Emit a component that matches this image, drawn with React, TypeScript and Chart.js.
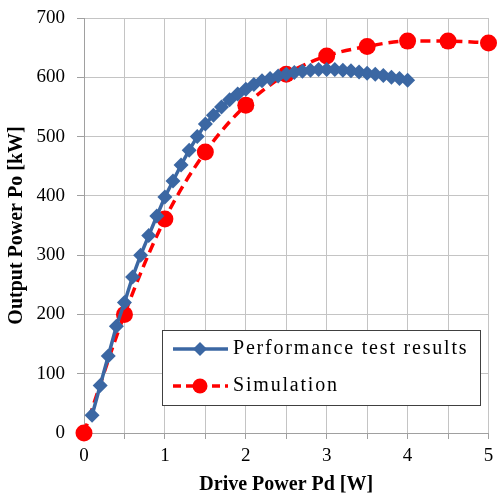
import React, { useEffect, useRef } from "react";
import { Chart, registerables } from "chart.js";

Chart.register(...registerables);

const testX = [0.1, 0.2, 0.3, 0.4, 0.5, 0.6, 0.7, 0.8, 0.9, 1.0, 1.1, 1.2, 1.3, 1.4, 1.5, 1.6, 1.7, 1.8, 1.9, 2.0, 2.1, 2.2, 2.3, 2.4, 2.5, 2.6, 2.7, 2.8, 2.9, 3.0, 3.1, 3.2, 3.3, 3.4, 3.5, 3.6, 3.7, 3.8, 3.9, 4.0];
const testY = [30, 80, 130, 180, 220, 263, 300, 333, 366, 398, 425, 452, 477, 500, 521, 536, 550, 562, 572, 580, 588, 594, 598, 602, 605, 608, 610, 612, 613, 613, 613, 612, 611, 609, 607, 605, 603, 600, 598, 595];
const simX = [0, 0.5, 1.0, 1.5, 2.0, 2.5, 3.0, 3.5, 4.0, 4.5, 5.0];
const simY = [0, 200, 361, 474, 553, 605, 636, 652, 661, 661, 658];
const seriesNames = ["Performance test results", "Simulation"];
const xTitle = "Drive Power Pd [W]";
const yTitle = "Output Power Po [kW]";

const BLUE = "#3b67a3";
const RED = "#ff0000";
const FONT = "'Liberation Serif', 'Times New Roman', serif";

const legendPlugin = {
  id: "insideLegend",
  afterDatasetsDraw(chart: any) {
    const ctx = chart.ctx;
    const x0 = 162, y0 = 330, w = 318, h = 75;
    ctx.save();
    ctx.fillStyle = "#ffffff";
    ctx.fillRect(x0, y0, w, h);
    ctx.strokeStyle = "#404040";
    ctx.lineWidth = 1;
    ctx.setLineDash([]);
    ctx.strokeRect(x0 + 0.5, y0 + 0.5, w, h);
    const r1 = 349, r2 = 386;
    ctx.strokeStyle = BLUE;
    ctx.lineWidth = 3.5;
    ctx.beginPath();
    ctx.moveTo(173, r1);
    ctx.lineTo(228, r1);
    ctx.stroke();
    ctx.fillStyle = BLUE;
    ctx.beginPath();
    ctx.moveTo(200, r1 - 7);
    ctx.lineTo(207, r1);
    ctx.lineTo(200, r1 + 7);
    ctx.lineTo(193, r1);
    ctx.closePath();
    ctx.fill();
    ctx.strokeStyle = RED;
    ctx.lineWidth = 3.5;
    ctx.setLineDash([8, 5]);
    ctx.beginPath();
    ctx.moveTo(173, r2);
    ctx.lineTo(228, r2);
    ctx.stroke();
    ctx.setLineDash([]);
    ctx.fillStyle = RED;
    ctx.beginPath();
    ctx.arc(200, r2, 7.5, 0, Math.PI * 2);
    ctx.fill();
    ctx.fillStyle = "#000000";
    ctx.font = `20px ${FONT}`;
    try {
      (ctx as any).letterSpacing = "1.8px";
    } catch (e) {}
    ctx.textBaseline = "middle";
    ctx.textAlign = "left";
    ctx.fillText(seriesNames[0], 233, r1);
    ctx.fillText(seriesNames[1], 233, r2);
    ctx.restore();
  },
};

export default function App() {
  const ref = useRef<HTMLCanvasElement | null>(null);
  useEffect(() => {
    document.body.style.margin = "0";
    const canvas = ref.current!;
    const chart = new Chart(canvas, {
      type: "line",
      data: {
        datasets: [
          {
            label: seriesNames[0],
            data: testX.map((x, i) => ({ x, y: testY[i] })),
            borderColor: BLUE,
            backgroundColor: BLUE,
            borderWidth: 3.5,
            pointStyle: "rectRot",
            pointRadius: 7.5,
            pointBorderWidth: 0,
            tension: 0,
            clip: false as any,
          },
          {
            label: seriesNames[1],
            data: simX.map((x, i) => ({ x, y: simY[i] })),
            borderColor: RED,
            backgroundColor: RED,
            borderWidth: 3.5,
            borderDash: [10, 6],
            pointStyle: "circle",
            pointRadius: 8.5,
            pointBorderWidth: 0,
            cubicInterpolationMode: "monotone",
            clip: false as any,
          },
        ],
      },
      options: {
        responsive: false,
        animation: false,
        layout: { padding: { left: 0, right: 6, top: 18, bottom: 0 } },
        plugins: { legend: { display: false }, tooltip: { enabled: false } },
        scales: {
          x: {
            type: "linear",
            min: 0,
            max: 5,
            ticks: {
              stepSize: 0.5,
              color: "#000",
              font: { family: FONT, size: 19 },
              maxRotation: 0,
              padding: 6,
              callback: (v: any) => (Number.isInteger(v) ? String(v) : ""),
            },
            grid: { color: "#c4c4c4", lineWidth: 1, tickLength: 6, tickColor: "#a0a0a0" },
            border: { color: "#a0a0a0", width: 1 },
            title: {
              display: true,
              text: xTitle,
              color: "#000",
              font: { family: FONT, size: 20, weight: "bold" },
              padding: { top: 0, bottom: 1 },
            },
            afterFit: (s: any) => {
              s.height = 65;
              s.paddingLeft = 0;
              s.paddingRight = 0;
            },
          },
          y: {
            min: 0,
            max: 700,
            ticks: {
              stepSize: 100,
              color: "#000",
              font: { family: FONT, size: 19 },
              padding: 12,
            },
            grid: { color: "#c4c4c4", lineWidth: 1, tickLength: 7, tickColor: "#a0a0a0" },
            border: { color: "#a0a0a0", width: 1 },
            title: {
              display: true,
              text: yTitle,
              color: "#000",
              font: { family: FONT, size: 20, weight: "bold" },
              padding: { top: 5, bottom: 0 },
            },
            afterFit: (s: any) => {
              s.width = 84;
              s.paddingTop = 0;
              s.paddingBottom = 0;
            },
          },
        },
      },
      plugins: [legendPlugin],
    } as any);
    return () => chart.destroy();
  }, []);
  return (
    <div style={{ width: 497, height: 498 }}>
      <canvas ref={ref} width={497} height={498} style={{ display: "block" }} />
    </div>
  );
}
